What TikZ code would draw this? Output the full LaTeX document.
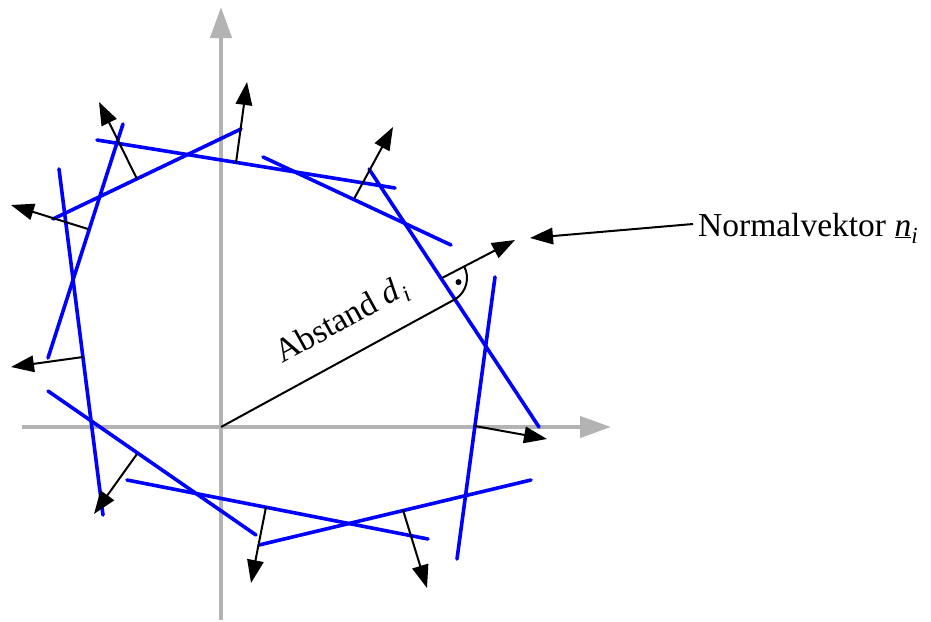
\documentclass[tikz,border=0pt]{standalone}
\usepackage{fontspec}
\setmainfont{Liberation Serif}
\usetikzlibrary{arrows.meta,calc}
\definecolor{axisgray}{RGB}{179,179,179}
\begin{document}
\begin{tikzpicture}[x=1pt,y=1pt,
  blueline/.style={draw=blue, line width=3.6pt, line cap=round},
  normalarrow/.style={draw=black, line width=2pt, -{Triangle[length=23pt,width=16.5pt]}},
  axisline/.style={draw=axisgray, line width=4.3pt, -{Triangle[length=31pt,width=21pt]}},
  thinline/.style={draw=black, line width=2pt},
  lbl/.style={font=\fontsize{33.5}{40}\selectfont, inner sep=0pt}]
\useasboundingbox (0,0) rectangle (931,-621);

% axes
\coordinate (xs) at (22,-427);
\coordinate (xe) at (611,-427);
\coordinate (ys) at (221,-620);
\coordinate (ye) at (221,-7);
\coordinate (O) at (221,-427);
\draw[axisline] (xs) -- (xe);
\draw[axisline] (ys) -- (ye);

% blue lines
\coordinate (a1) at (97,-140);  \coordinate (b1) at (395,-188);
\coordinate (a2) at (53,-219);  \coordinate (b2) at (241,-129);
\coordinate (a3) at (263,-157); \coordinate (b3) at (451,-245);
\coordinate (a4) at (369,-169); \coordinate (b4) at (539,-427);
\coordinate (a5) at (495,-277); \coordinate (b5) at (457,-559);
\coordinate (a6) at (259,-545); \coordinate (b6) at (531,-480);
\coordinate (a7) at (127,-480); \coordinate (b7) at (428,-539);
\coordinate (a8) at (48,-391);  \coordinate (b8) at (256,-535);
\coordinate (a9) at (59,-169);  \coordinate (b9) at (103,-515);
\coordinate (a10) at (123,-124); \coordinate (b10) at (48,-358);
\foreach \i in {1,...,10} {\draw[blueline] (a\i) -- (b\i);}

% normal vectors
\coordinate (p1) at (236,-163);  \coordinate (t1) at (247,-82);
\coordinate (p2) at (137,-179);  \coordinate (t2) at (99,-102);
\coordinate (p3) at (354,-199);  \coordinate (t3) at (393,-127);
\coordinate (p4) at (442,-278);  \coordinate (t4) at (515,-240);
\coordinate (p5) at (475,-426);  \coordinate (t5) at (547,-439);
\coordinate (p6) at (403,-510);  \coordinate (t6) at (427,-588);
\coordinate (p7) at (266,-507);  \coordinate (t7) at (251,-583);
\coordinate (p8) at (137,-454);  \coordinate (t8) at (94,-514);
\coordinate (p9) at (83,-357);   \coordinate (t9) at (11,-367);
\coordinate (p10) at (88,-229);  \coordinate (t10) at (11,-205);
\foreach \i in {1,...,10} {\draw[normalarrow] (p\i) -- (t\i);}

% distance and right-angle mark
\coordinate (F) at ($(p4)+(-56.6:25)$);
\draw[thinline] (O) -- (F);
\draw[thinline] ($(p4)+(28.8:25)$) arc[start angle=28.8, end angle=-56.6, radius=25];
\fill ($(p4)+(-13.9:17)$) circle[radius=3];

% labels
\node[lbl, anchor=base west, rotate=28.9] (abst) at (282,-364)
  {Abstand \textit{d}\kern2pt\raisebox{-7pt}{\fontsize{23}{23}\selectfont\itshape i}};
\node[lbl, anchor=base west] (nvtext) at (698,-236)
  {Normalvektor \underline{\textit{n}}\raisebox{-7pt}{\fontsize{23}{23}\selectfont\itshape i}};
\coordinate (nvtip) at (530,-238);
\draw[normalarrow] ([xshift=-5pt,yshift=12pt]nvtext.base west) -- (nvtip);
\end{tikzpicture}
\end{document}
